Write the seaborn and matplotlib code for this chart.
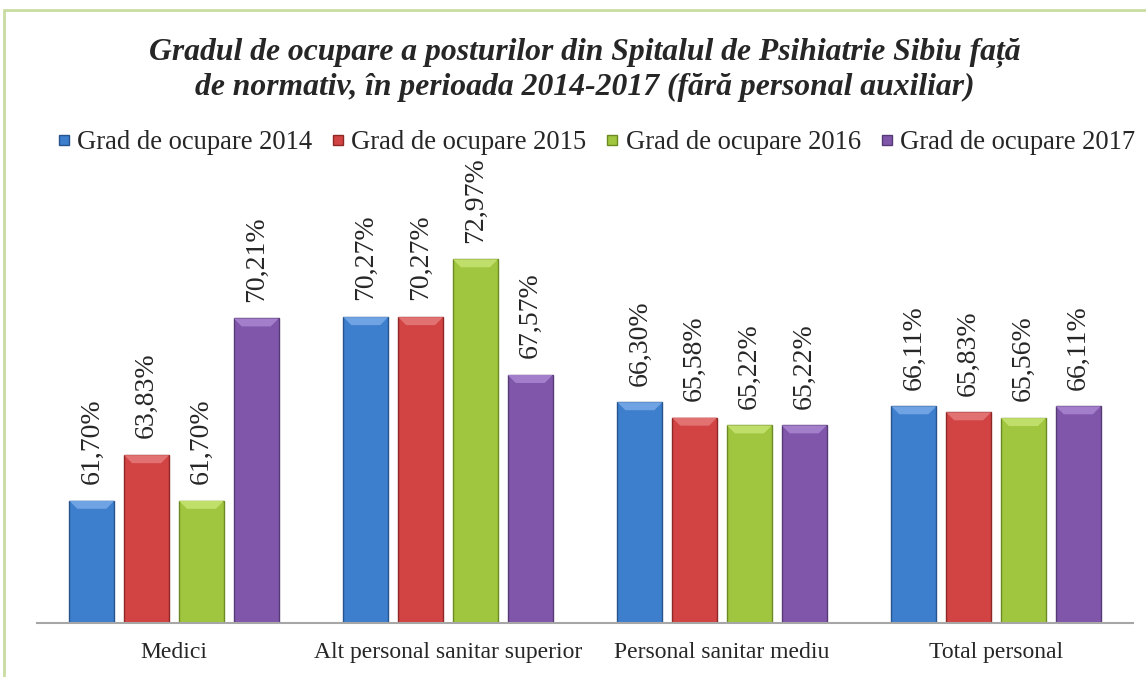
import matplotlib
matplotlib.use("Agg")
import matplotlib.pyplot as plt
import seaborn as sns
import pandas as pd
from matplotlib.lines import Line2D
from matplotlib.patches import Polygon

categories = ["Medici", "Alt personal sanitar superior", "Personal sanitar mediu", "Total personal"]
series_names = ["Grad de ocupare 2014", "Grad de ocupare 2015", "Grad de ocupare 2016", "Grad de ocupare 2017"]
v2014 = [61.70, 70.27, 66.30, 66.11]
v2015 = [63.83, 70.27, 65.58, 65.83]
v2016 = [61.70, 72.97, 65.22, 65.56]
v2017 = [70.21, 67.57, 65.22, 66.11]
colors = ["#3d7ecd", "#d24343", "#9fc63e", "#8056aa"]
tops = ["#6fa3e3", "#e27272", "#c0de6a", "#a37fcb"]
edges = ["#27548c", "#8e2826", "#6b8a24", "#553a75"]

rows = []
for name, vals in zip(series_names, [v2014, v2015, v2016, v2017]):
    for cat, v in zip(categories, vals):
        rows.append({"cat": cat, "serie": name, "val": v})
df = pd.DataFrame(rows)

sns.set_style("white")
plt.rcParams["font.family"] = ["Liberation Serif", "DejaVu Serif"]

fig = plt.figure(figsize=(11.46, 6.77), dpi=100)
ax = fig.add_axes([0.0323, 0.0798, 0.9564, 0.668])

sns.barplot(data=df, x="cat", y="val", hue="serie", palette=colors,
            width=0.8, gap=0.18, ax=ax, legend=False, saturation=1)

ax.set_ylim(56.0, 77.1)
ax.set_xlim(-0.5, 3.5)

# pixel -> data conversion for the bevel on top of each bar
fig.canvas.draw()
inv = ax.transData.inverted()
(dx0, dy0), (dx1, dy1) = inv.transform([(0, 0), (8, 8)])
bev_x, bev_y = dx1 - dx0, dy1 - dy0

for i, cont in enumerate(ax.containers):
    for p in cont:
        p.set_edgecolor(edges[i])
        p.set_linewidth(1.0)
        x0, w, h = p.get_x(), p.get_width(), p.get_height()
        ax.add_patch(Polygon([(x0, h), (x0 + w, h), (x0 + w - bev_x, h - bev_y),
                              (x0 + bev_x, h - bev_y)], closed=True,
                             facecolor=tops[i], edgecolor="none", zorder=p.get_zorder() + 0.1))
    vals = [v2014, v2015, v2016, v2017][i]
    ax.bar_label(cont, labels=[f"{v:.2f}%".replace(".", ",") for v in vals],
                 rotation=90, padding=12, fontsize=20)

ax.set_xlabel("")
ax.set_ylabel("")
ax.set_yticks([])
ax.tick_params(axis="x", length=0, pad=14, labelsize=17)
for s in ["top", "right", "left"]:
    ax.spines[s].set_visible(False)
ax.spines["bottom"].set_color("#a6a6a6")
ax.spines["bottom"].set_linewidth(1.5)

fig.suptitle("Gradul de ocupare a posturilor din Spitalul de Psihiatrie Sibiu față\n"
             "de normativ, în perioada 2014-2017 (fără personal auxiliar)",
             x=0.51, y=0.944, fontsize=22.8, fontweight="bold", fontstyle="italic",
             linespacing=1.22)

handles = [Line2D([], [], marker="s", linestyle="", markersize=7.5,
                  markerfacecolor=c, markeredgecolor=e) for c, e in zip(colors, edges)]
fig.legend(handles, series_names, loc="center", bbox_to_anchor=(0.519, 0.789),
           ncol=4, frameon=False, fontsize=19.2, handletextpad=0.15,
           columnspacing=0.62, handlelength=0.7)

# light green frame
fig.add_artist(Line2D([0.0035, 1.0], [0.985, 0.985], transform=fig.transFigure,
                      color="#c9dca2", linewidth=2))
fig.add_artist(Line2D([0.0035, 0.0035], [0.0, 0.985], transform=fig.transFigure,
                      color="#c9dca2", linewidth=2))

fig.savefig("out.png", dpi=100)
